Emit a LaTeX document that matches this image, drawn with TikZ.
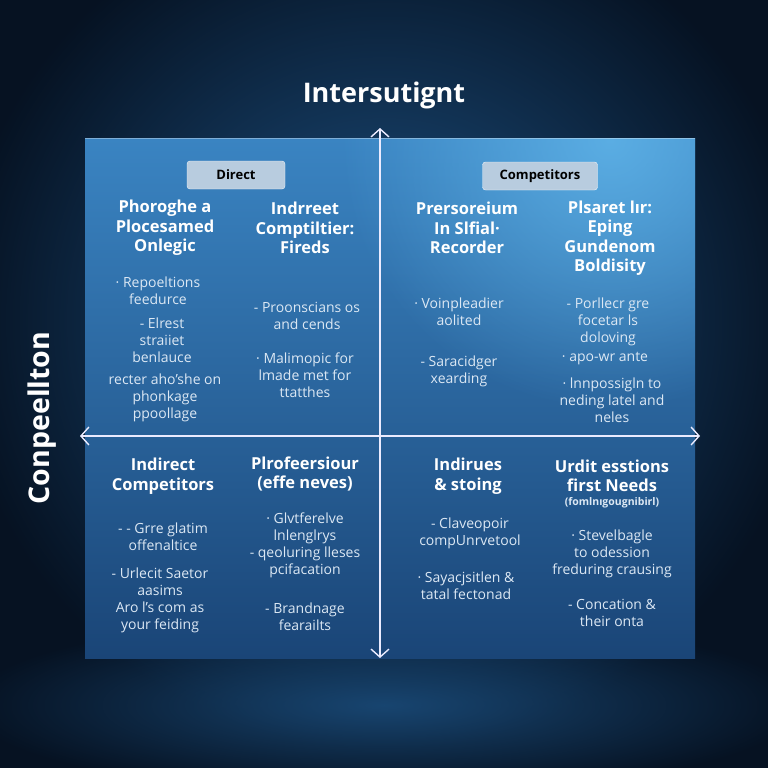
\documentclass[tikz,border=0pt]{standalone}
\usepackage{fontspec}
\setmainfont{Open Sans}
\usetikzlibrary{arrows.meta,fadings}
\definecolor{bgdark}{HTML}{061222}
\definecolor{bgglow}{HTML}{1D5284}
\definecolor{paneltop}{HTML}{3A84C2}
\definecolor{panelmid}{HTML}{2A66A0}
\definecolor{panelbot}{HTML}{1A4577}
\definecolor{panelglow}{HTML}{63B8EC}
\definecolor{tagfill}{HTML}{B8CCDF}
\definecolor{bodytext}{HTML}{DCE8F4}
\tikzfading[name=glowfade, inner color=transparent!0, outer color=transparent!100]
\begin{document}
\begin{tikzpicture}[x=1pt, y=-1pt,
  head/.style={align=center, text=white, font=\bfseries\fontsize{16.5}{19.5}\selectfont},
  body/.style={align=center, text=bodytext, font=\fontsize{14}{17}\selectfont},
  tag/.style={draw=white!80!tagfill, fill=tagfill, rounded corners=3pt, minimum height=28pt, font=\bfseries\fontsize{13}{15}\selectfont, text=black},
  arrowline/.style={draw=white!92!blue, line width=1.4pt, {Straight Barb[length=8pt,width=18pt]}-{Straight Barb[length=8pt,width=18pt]}}]
  \useasboundingbox (0,0) rectangle (768,768);
  % background and floor
  \fill[bgdark] (0,0) rectangle (768,768);
  \fill[bgglow, path fading=glowfade] (384,320) circle (430);
  \fill[bgglow!80!bgdark, path fading=glowfade] (384,705) ellipse (420 and 90);
  % panel
  \shade[top color=paneltop, middle color=panelmid, bottom color=panelbot] (85,138) rectangle (695,658);
  \begin{scope}
    \clip (85,138) rectangle (695,658);
    \fill[panelglow, opacity=0.8, path fading=glowfade] (610,140) circle (270);
  \end{scope}
  \draw[white, opacity=0.35, line width=0.8pt] (85,138) -- (695,138);
  % axes
  \coordinate (top) at (380,128);
  \coordinate (bottom) at (380,658);
  \coordinate (left) at (80,436);
  \coordinate (right) at (700,436);
  \draw[arrowline] (top) -- (bottom);
  \draw[arrowline] (left) -- (right);
  \node[text=white, font=\bfseries\fontsize{27}{30}\selectfont] (title) at (384,95) {Intersutignt};
  \node[rotate=90, text=white, font=\bfseries\fontsize{28.5}{30}\selectfont] (ylabel) at (42,418) {Conpeellton};
  % tags
  \node[tag, minimum width=98pt] (direct) at (236,175) {Direct};
  \node[tag, minimum width=115pt] (competitors) at (540,176) {Competitors};
  % top left
  \node[head] (tlhead) at (165,228) {Phoroghe a\\Plocesamed\\Onlegic};
  \node[head] (tlhead2) at (305,228) {Indrreet\\Comptiltier:\\Fireds};
  \node[body] (tlbody1) at (158,291) {· Repoeltions\\feedurce};
  \node[body] (tlbody2) at (162,340) {- Elrest\\straiiet\\benlauce};
  \node[body] (tlbody3) at (165,398) {recter aho'she on\\phonkage\\ppoollage};
  \node[body] (tlbody4) at (307,316) {- Proonscians os\\and cends};
  \node[body] (tlbody5) at (305,375) {· Malimopic for\\lmade met for\\ttatthes};
  % top right
  \node[head] (trhead) at (467,228) {Prersoreium\\In Slfial·\\Recorder};
  \node[head] (trhead2) at (610,238) {Plsaret lır:\\Eping\\Gundenom\\Boldisity};
  \node[body] (trbody1) at (459,312) {· Voinpleadier\\aolited};
  \node[body] (trbody2) at (459,371) {- Saracidger\\xearding};
  \node[body] (trbody3) at (608,322) {- Porllecr gre\\focetar ls\\doloving};
  \node[body] (trbody4) at (605,359) {· apo-wr ante};
  \node[body] (trbody5) at (612,400) {· lnnpossigln to\\neding latel and\\neles};
  % bottom left
  \node[head] (blhead) at (163,476) {Indirect\\Competitors};
  \node[head] (blhead2) at (305,474) {Plrofeersiour\\(effe neves)};
  \node[body] (blbody1) at (163,537) {- - Grre glatim\\offenaltice};
  \node[body] (blbody2) at (160,600) {- Urlecit Saetor\\aasims\\Aro l's com as\\your feiding};
  \node[body] (blbody3) at (305,545) {· Glvtferelve\\lnlenglrys\\- qeoluring lleses\\pcifacation};
  \node[body] (blbody4) at (305,617) {- Brandnage\\fearailts};
  % bottom right
  \node[head] (brhead) at (468,476) {Indirues\\\& stoing};
  \node[head] (brhead2) at (612,476) {Urdit esstions\\first Needs};
  \node[body, font=\bfseries\fontsize{10.5}{12}\selectfont] (brnote) at (612,503) {(fomlnıgougnibirl)};
  \node[body] (brbody1) at (470,533) {- Claveopoir\\compUnrvetool};
  \node[body] (brbody2) at (466,586) {· Sayacjsitlen \&\\tatal fectonad};
  \node[body] (brbody3) at (612,554) {· Stevelbagle\\to odession\\freduring crausing};
  \node[body] (brbody4) at (612,613) {- Concation \&\\their onta};
\end{tikzpicture}
\end{document}
